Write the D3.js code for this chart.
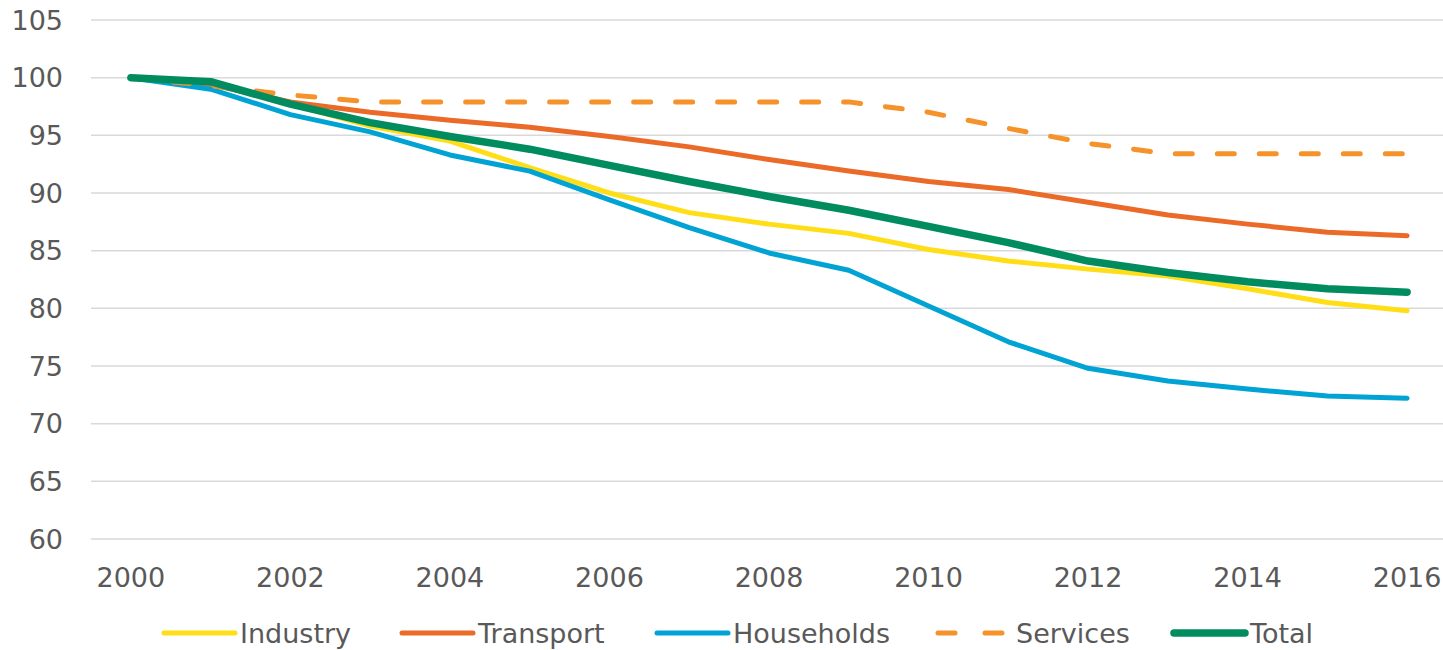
<html>
<head>
<script src="https://d3js.org/d3.v7.min.js"></script>
<style>
  body { margin: 0; background: #fff; }
  text { font-family: Verdana, "DejaVu Sans", sans-serif; fill: #595959; }
</style>
</head>
<body>
<script>
// index values, 2000 = 100
let years = d3.range(2000, 2017);
let industry   = [100, 99.5, 97.7, 95.8, 94.5, 92.2, 90.0, 88.3, 87.3, 86.5, 85.1, 84.1, 83.4, 82.8, 81.7, 80.5, 79.8];
let transport  = [100, 99.4, 97.9, 97.0, 96.3, 95.7, 94.9, 94.0, 92.9, 91.9, 91.0, 90.3, 89.2, 88.1, 87.3, 86.6, 86.3];
let households = [100, 99.0, 96.8, 95.3, 93.3, 91.9, 89.4, 87.0, 84.8, 83.3, 80.2, 77.1, 74.8, 73.7, 73.0, 72.4, 72.2];
let services   = [100, 99.3, 98.5, 97.9, 97.9, 97.9, 97.9, 97.9, 97.9, 97.9, 97.0, 95.6, 94.3, 93.4, 93.4, 93.4, 93.4];
let total      = [100, 99.65, 97.7, 96.1, 94.9, 93.8, 92.4, 91.0, 89.7, 88.5, 87.1, 85.7, 84.1, 83.1, 82.3, 81.7, 81.4];
let yTicks = [60, 65, 70, 75, 80, 85, 90, 95, 100, 105];
let xTickYears = [2000, 2002, 2004, 2006, 2008, 2010, 2012, 2014, 2016];

let series = [
  { name: "Industry",   values: industry,   color: "#FFDE17", width: 5, dash: null },
  { name: "Transport",  values: transport,  color: "#EB6A28", width: 5, dash: null },
  { name: "Households", values: households, color: "#00A3D4", width: 5, dash: null },
  { name: "Services",   values: services,   color: "#F5922A", width: 5, dash: "17,25" },
  { name: "Total",      values: total,      color: "#008C5E", width: 7.5, dash: null }
];

let W = 1443, H = 650;
let plotL = 91, plotR = 1447, plotT = 20, plotB = 539;

let svg = d3.select("body").append("svg")
  .attr("width", W)
  .attr("height", H);

let x = d3.scaleBand()
  .domain(years)
  .range([plotL, plotR]);

let y = d3.scaleLinear()
  .domain([60, 105])
  .range([plotB, plotT]);

let cx = d => x(d) + x.bandwidth() / 2;

// gridlines
svg.append("g")
  .selectAll("line")
  .data(yTicks)
  .join("line")
  .attr("x1", plotL)
  .attr("x2", plotR)
  .attr("y1", d => y(d))
  .attr("y2", d => y(d))
  .attr("stroke", "#D9D9D9")
  .attr("stroke-width", 1.5);

// y labels
svg.append("g")
  .selectAll("text")
  .data(yTicks)
  .join("text")
  .attr("x", 63)
  .attr("y", d => y(d))
  .attr("dy", "0.36em")
  .attr("text-anchor", "end")
  .attr("font-size", "27px")
  .text(d => d);

// x labels
svg.append("g")
  .selectAll("text")
  .data(xTickYears)
  .join("text")
  .attr("x", d => cx(d))
  .attr("y", 577)
  .attr("dy", "0.36em")
  .attr("text-anchor", "middle")
  .attr("font-size", "27px")
  .text(d => d);

let line = d3.line()
  .x((d, i) => cx(years[i]))
  .y(d => y(d));

svg.append("g")
  .selectAll("path")
  .data(series)
  .join("path")
  .attr("d", s => line(s.values))
  .attr("fill", "none")
  .attr("stroke", s => s.color)
  .attr("stroke-width", s => s.width)
  .attr("stroke-linecap", "round")
  .attr("stroke-linejoin", "round")
  .attr("stroke-dasharray", s => s.dash);

// legend
let legendX = [164, 402, 657, 938, 1174];
let legendY = 633;
let leg = svg.append("g")
  .selectAll("g")
  .data(series)
  .join("g")
  .attr("transform", (s, i) => `translate(${legendX[i]},${legendY})`);

leg.append("line")
  .attr("x1", 0)
  .attr("x2", 71)
  .attr("stroke", s => s.color)
  .attr("stroke-width", s => s.width)
  .attr("stroke-linecap", "round")
  .attr("stroke-dasharray", s => s.dash ? "17,30" : null);

leg.append("text")
  .attr("x", s => s.dash ? 78 : 76)
  .attr("dy", "0.36em")
  .attr("font-size", "27px")
  .text(s => s.name);
</script>
</body>
</html>
